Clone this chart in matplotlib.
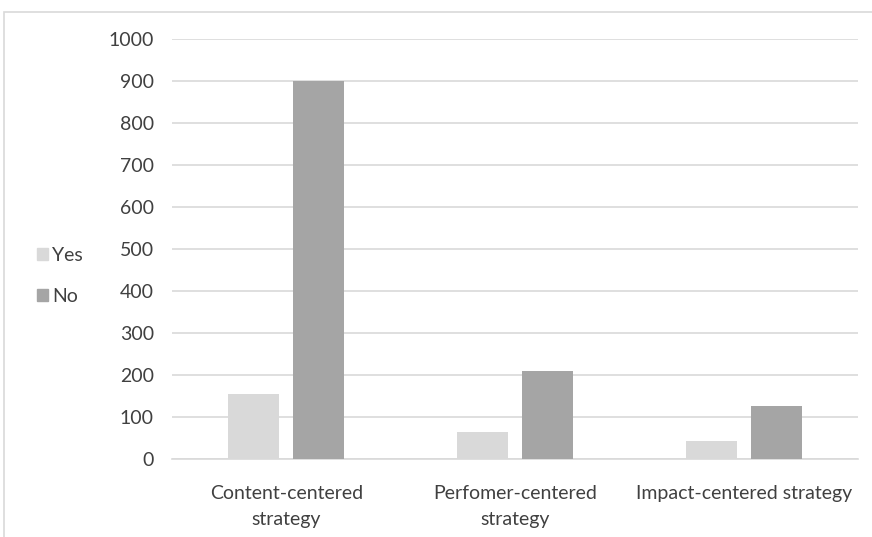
import matplotlib
matplotlib.use("Agg")
import matplotlib.pyplot as plt
import numpy as np
from matplotlib.patches import Rectangle, Patch

categories = ["Content-centered\nstrategy", "Perfomer-centered\nstrategy", "Impact-centered strategy"]
yes_vals = [154, 64, 43]
no_vals = [900, 209, 126]
series_names = ["Yes", "No"]
yticks = list(range(0, 1001, 100))

plt.rcParams['font.family'] = ['Lato', 'DejaVu Sans']

fig = plt.figure(figsize=(8.72, 5.37), dpi=100)
W, H = 872, 537
ax = fig.add_axes([172 / W, 1 - 459 / H, (858 - 172) / W, (459 - 39) / H])

x = np.arange(len(categories))
bw = 0.223
gap = 0.06
ax.bar(x - (bw + gap) / 2, yes_vals, bw, color="#d9d9d9", label=series_names[0], zorder=3)
ax.bar(x + (bw + gap) / 2, no_vals, bw, color="#a5a5a5", label=series_names[1], zorder=3)

fs = 14
ax.set_xlim(-0.5, 2.5)
ax.set_ylim(0, 1000)
ax.set_yticks(yticks)
ax.set_yticklabels([str(v) for v in yticks], fontsize=fs, color="#404040")
ax.set_xticks(x)
ax.set_xticklabels(categories, fontsize=fs, color="#404040", linespacing=1.62)
ax.tick_params(axis="both", length=0)
ax.tick_params(axis="y", pad=13)
ax.tick_params(axis="x", pad=19)
ax.grid(axis="y", color="#d9d9d9", linewidth=1.2, zorder=0)
for s in ["top", "right", "left"]:
    ax.spines[s].set_visible(False)
ax.spines["bottom"].set_color("#d9d9d9")
ax.spines["bottom"].set_linewidth(1.2)

handles = [Patch(color="#d9d9d9"), Patch(color="#a5a5a5")]
fig.legend(handles, series_names, loc="center left", bbox_to_anchor=(19 / W, 1 - 276 / H),
           frameon=False, fontsize=fs, handlelength=0.57, handleheight=0.57,
           handletextpad=0.25, labelspacing=1.25, labelcolor="#404040")

fig.patches.append(Rectangle((4 / W, -0.1), 1.2, 1 - 12 / H + 0.1, transform=fig.transFigure,
                             fill=False, edgecolor="#d9d9d9", linewidth=1.2))

fig.savefig("out.png", dpi=100)
